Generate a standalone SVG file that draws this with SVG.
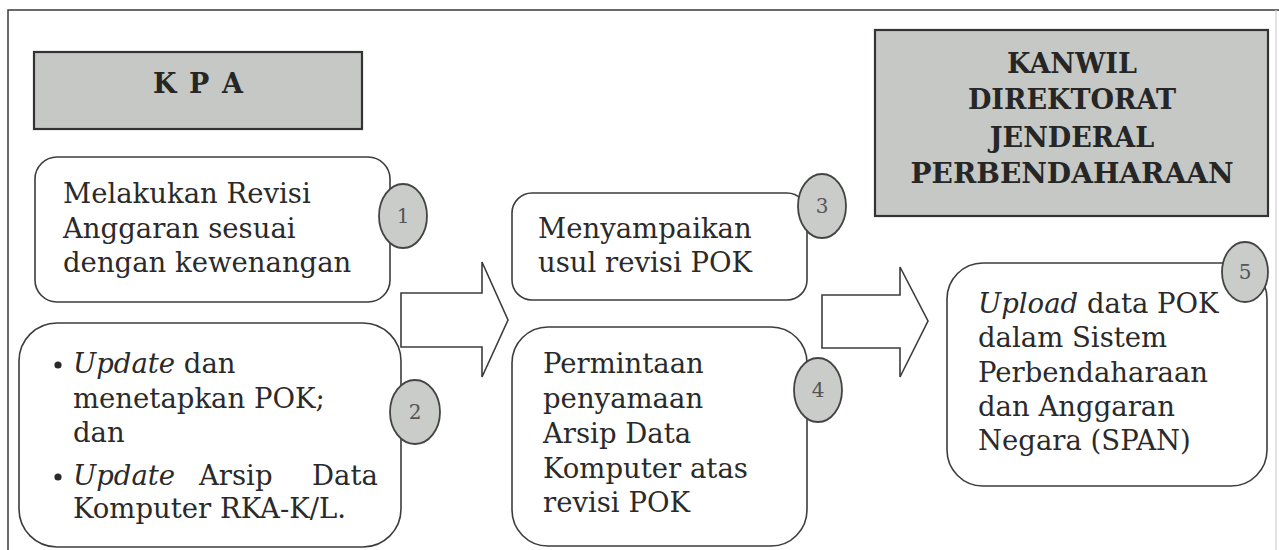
<svg xmlns="http://www.w3.org/2000/svg" width="1279" height="550" viewBox="0 0 1279 550">
<style>
  .frame{fill:none;stroke:#3a3a3a;stroke-width:1.5}
  .hdr{fill:#c5c8c5;stroke:#333;stroke-width:2.2}
  .hdrt{font-family:"DejaVu Serif","Liberation Serif",serif;font-weight:bold;font-size:27px;fill:#262626;text-anchor:middle}
  .box{fill:#fff;stroke:#3c3c3c;stroke-width:1.6}
  .t{font-family:"DejaVu Serif","Liberation Serif",serif;font-size:27.5px;fill:#2a2a2a}
  .it{font-style:italic}
  .badge{fill:#c9ccc9;stroke:#444;stroke-width:1.8}
  .num{font-family:"DejaVu Serif","Liberation Serif",serif;font-size:20px;fill:#555;text-anchor:middle}
  .arrow{fill:#fff;stroke:#3c3c3c;stroke-width:1.6;stroke-linejoin:miter}
</style>
<rect width="1279" height="550" fill="#fff"/>
<path class="frame" d="M8,550 V10 H1279"/>
<line x1="1276" y1="10" x2="1276" y2="550" stroke="#d0d0d0" stroke-width="1.2"/>

<g id="connectors">
  <polygon class="arrow" points="401,293 482,293 482,262 508,320 482,377 482,347 401,347"/>
  <polygon class="arrow" points="822,295 900,295 900,267 928,321 900,377 900,348 822,348"/>
</g>

<g id="kpa">
  <rect class="hdr" x="34" y="52" width="328" height="77"/>
  <text class="hdrt" x="198" y="93" textLength="90" lengthAdjust="spacing">K P A</text>
</g>

<g id="kanwil">
  <rect class="hdr" x="875" y="30" width="393" height="186"/>
  <text class="hdrt" x="1072" y="73">KANWIL</text>
  <text class="hdrt" x="1072" y="109">DIREKTORAT</text>
  <text class="hdrt" x="1072" y="147">JENDERAL</text>
  <text class="hdrt" x="1072" y="183" textLength="323" lengthAdjust="spacingAndGlyphs">PERBENDAHARAAN</text>
</g>

<g id="step1">
  <rect class="box" x="35" y="157" width="355" height="145" rx="22"/>
  <text class="t" x="63" y="203">Melakukan Revisi</text>
  <text class="t" x="63" y="238">Anggaran sesuai</text>
  <text class="t" x="63" y="272">dengan kewenangan</text>
  <ellipse class="badge" cx="403" cy="216" rx="24" ry="32"/>
  <text class="num" x="403" y="223">1</text>
</g>

<g id="step2">
  <rect class="box" x="19" y="323" width="382" height="224" rx="38"/>
  <circle cx="58" cy="365" r="3.6" fill="#2a2a2a"/>
  <text class="t" x="73" y="373"><tspan class="it">Update</tspan> dan</text>
  <text class="t" x="73" y="408">menetapkan POK;</text>
  <text class="t" x="73" y="442">dan</text>
  <circle cx="58" cy="477" r="3.6" fill="#2a2a2a"/>
  <text class="t it" x="73" y="485">Update</text>
  <text class="t" x="199" y="485">Arsip</text>
  <text class="t" x="312" y="485">Data</text>
  <text class="t" x="73" y="518">Komputer RKA-K/L.</text>
  <ellipse class="badge" cx="415" cy="412" rx="25" ry="32"/>
  <text class="num" x="415" y="419">2</text>
</g>

<g id="step3">
  <rect class="box" x="512" y="193" width="295" height="107" rx="20"/>
  <text class="t" x="538" y="238">Menyampaikan</text>
  <text class="t" x="538" y="272">usul revisi POK</text>
  <ellipse class="badge" cx="822" cy="206" rx="24" ry="32"/>
  <text class="num" x="822" y="213">3</text>
</g>

<g id="step4">
  <rect class="box" x="512" y="327" width="295" height="219" rx="36"/>
  <text class="t" x="543" y="373">Permintaan</text>
  <text class="t" x="543" y="408">penyamaan</text>
  <text class="t" x="543" y="443">Arsip Data</text>
  <text class="t" x="543" y="478">Komputer atas</text>
  <text class="t" x="543" y="512">revisi POK</text>
  <ellipse class="badge" cx="818" cy="390" rx="24" ry="32"/>
  <text class="num" x="818" y="397">4</text>
</g>

<g id="step5">
  <rect class="box" x="947" y="263" width="320" height="223" rx="36"/>
  <text class="t" x="978" y="313"><tspan class="it">Upload</tspan> data POK</text>
  <text class="t" x="978" y="347">dalam Sistem</text>
  <text class="t" x="978" y="382">Perbendaharaan</text>
  <text class="t" x="978" y="416">dan Anggaran</text>
  <text class="t" x="978" y="450">Negara (SPAN)</text>
  <ellipse class="badge" cx="1245" cy="272" rx="23" ry="30"/>
  <text class="num" x="1245" y="279">5</text>
</g>
</svg>
